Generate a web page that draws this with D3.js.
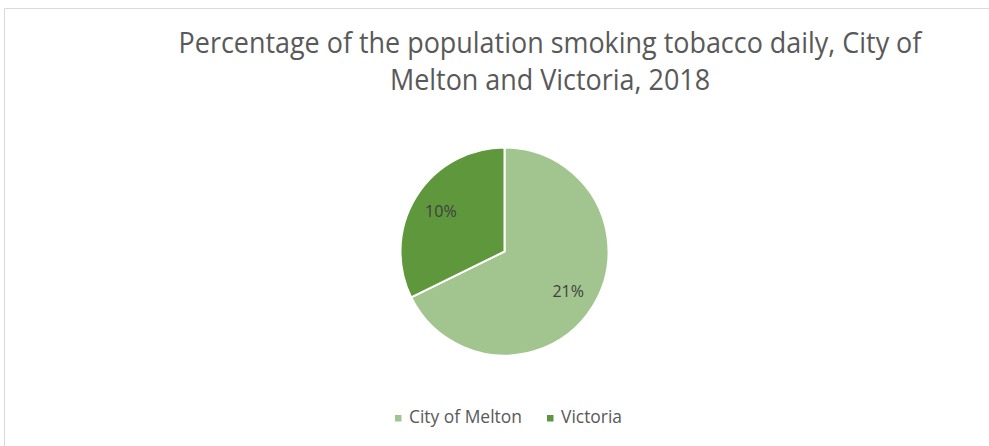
<!DOCTYPE html>
<html>
<head>
<meta charset="utf-8">
<script src="https://cdn.jsdelivr.net/npm/d3@7"></script>
<style>
  html, body { margin: 0; padding: 0; background: #fff; }
  svg { display: block; }
  text { font-family: "Open Sans", "Noto Sans", sans-serif; }
</style>
</head>
<body>
<svg id="chart" width="989" height="446"></svg>
<script>
// Daily smoking rates, 2018
const categories = ["City of Melton", "Victoria"];
const values = [21, 10];
const valueLabels = ["21%", "10%"];
const colors = ["#a2c590", "#5f973c"];
const titleLines = [
  "Percentage of the population smoking tobacco daily, City of",
  "Melton and Victoria, 2018"
];

const svg = d3.select("#chart");
const W = 989, H = 446;

// chart area frame (top and left edges)
svg.append("path")
  .attr("d", `M4.5,${H} L4.5,8.5 L${W},8.5`)
  .attr("fill", "none")
  .attr("stroke", "#d9d9d9")
  .attr("stroke-width", 1);

// fit a text element's font size to a given width
function fitWidth(sel, base, width) {
  sel.style("font-size", base + "px");
  const fs = base * width / sel.node().getComputedTextLength();
  sel.style("font-size", fs + "px");
  return fs;
}

// title, two centred lines, slightly stretched vertically
const titleX = 550;
const titleBase = [53, 90];
const title = svg.append("g");
let titleFs = 24;
titleLines.forEach((line, i) => {
  const t = title.append("g")
    .attr("transform", `translate(${titleX},${titleBase[i]}) scale(1,1.08)`)
    .append("text")
    .attr("text-anchor", "middle")
    .attr("fill", "#595959")
    .text(line);
  if (i === 0) titleFs = fitWidth(t, 24, 743);
  else t.style("font-size", titleFs + "px");
});

// pie
const cx = 504.5, cy = 251.5, R = 104;
const pie = d3.pie().sort(null).value(d => d.value);
const data = pie(categories.map((c, i) => ({ name: c, value: values[i], label: valueLabels[i], color: colors[i] })));
const arc = d3.arc().innerRadius(0).outerRadius(R);
const labelArc = d3.arc().innerRadius(75).outerRadius(75);

const g = svg.append("g").attr("transform", `translate(${cx},${cy})`);
g.selectAll("path.slice")
  .data(data)
  .join("path")
  .attr("class", "slice")
  .attr("d", arc)
  .attr("fill", d => d.data.color)
  .attr("stroke", "#fff")
  .attr("stroke-width", 2)
  .attr("stroke-linejoin", "round");

g.selectAll("text.val")
  .data(data)
  .join("text")
  .attr("class", "val")
  .attr("transform", d => `translate(${labelArc.centroid(d)})`)
  .attr("text-anchor", "middle")
  .attr("dy", "0.35em")
  .attr("fill", "#404040")
  .style("font-size", "16px")
  .text(d => d.data.label);

// legend
const legendX = [395, 547];
const legend = svg.append("g");
let legendFs = 16;
categories.forEach((c, i) => {
  legend.append("rect")
    .attr("x", legendX[i]).attr("y", 415)
    .attr("width", 6.5).attr("height", 6.5)
    .attr("fill", colors[i]);
  const t = legend.append("text")
    .attr("x", legendX[i] + 14).attr("y", 423)
    .attr("fill", "#595959")
    .text(c);
  if (i === 0) legendFs = fitWidth(t, 16, 113);
  else t.style("font-size", legendFs + "px");
});
</script>
</body>
</html>
